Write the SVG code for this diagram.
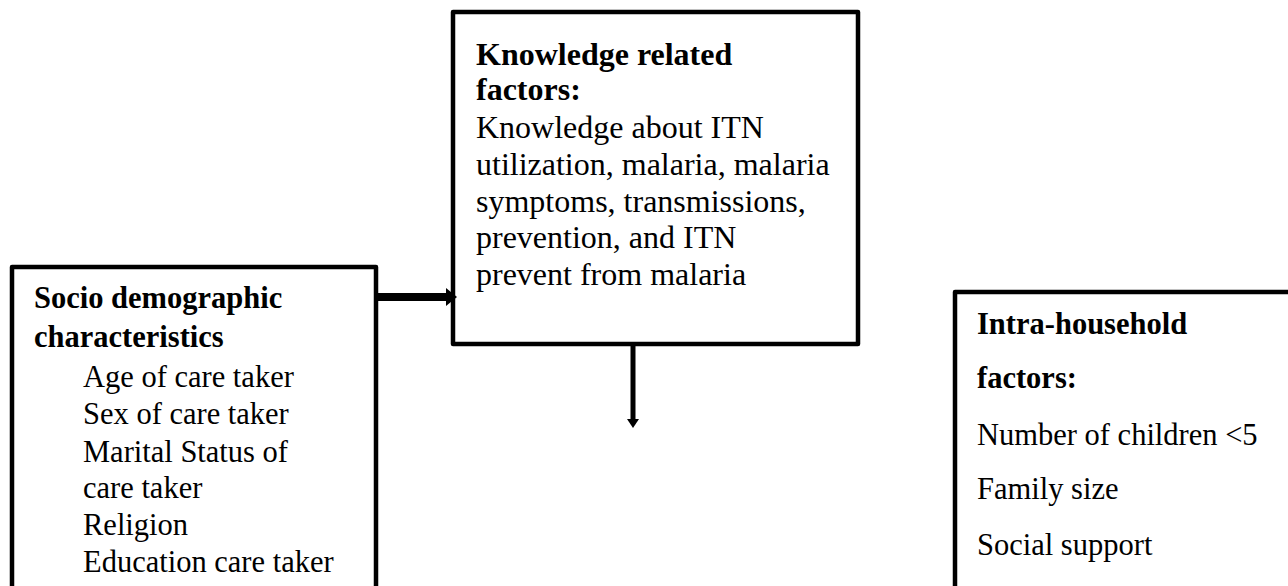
<svg xmlns="http://www.w3.org/2000/svg" width="1288" height="586" viewBox="0 0 1288 586">
<style>
.box{fill:#fff;stroke:#000;stroke-width:4.5;stroke-linejoin:round}
.t{font-family:"Liberation Serif","Times New Roman",serif;font-size:30.5px;fill:#000}
.m{font-size:32px}
.b{font-weight:bold}
</style>
<rect width="1288" height="586" fill="#fff"/>
<g id="node-socio">
<rect class="box" x="12" y="267" width="364" height="340"/>
<text class="t b" x="34" y="308">Socio demographic</text>
<text class="t b" x="34" y="347">characteristics</text>
<text class="t" x="83" y="387">Age of care taker</text>
<text class="t" x="83" y="424">Sex of care taker</text>
<text class="t" x="83" y="462">Marital Status of</text>
<text class="t" x="83" y="498">care taker</text>
<text class="t" x="83" y="535">Religion</text>
<text class="t" x="83" y="572">Education care taker</text>
</g>
<g id="node-knowledge">
<rect class="box" x="453" y="12" width="405" height="332"/>
<text class="t m b" x="476" y="65">Knowledge related</text>
<text class="t m b" x="476" y="100">factors:</text>
<text class="t m" x="476" y="138">Knowledge about ITN</text>
<text class="t m" x="476" y="175">utilization, malaria, malaria</text>
<text class="t m" x="476" y="212">symptoms, transmissions,</text>
<text class="t m" x="476" y="248">prevention, and ITN</text>
<text class="t m" x="476" y="285">prevent from malaria</text>
</g>
<g id="node-intra">
<rect class="box" x="955" y="292" width="340" height="320"/>
<text class="t b" x="977" y="334">Intra-household</text>
<text class="t b" x="977" y="388">factors:</text>
<text class="t" x="977" y="445">Number of children &lt;5</text>
<text class="t" x="977" y="499">Family size</text>
<text class="t" x="977" y="555">Social support</text>
</g>
<g id="connectors">
<line x1="378" y1="297" x2="449" y2="297" stroke="#000" stroke-width="8"/>
<polygon points="446,288 457,297 446,306" fill="#000"/>
<line x1="633" y1="346" x2="633" y2="420" stroke="#000" stroke-width="5"/>
<polygon points="627,419 633,428 639,419" fill="#000"/>
</g>
</svg>
